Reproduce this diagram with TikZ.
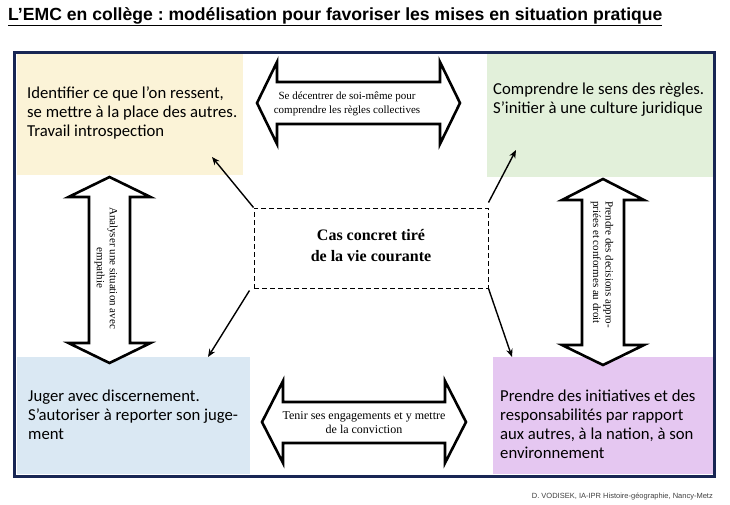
\documentclass[tikz,border=0pt]{standalone}
\usepackage{fontspec}
\setmainfont{Carlito}
\newfontfamily\timesfont{Liberation Serif}
\newfontfamily\arialfont{Liberation Sans}
\usetikzlibrary{arrows.meta}
\frenchspacing

\definecolor{navyframe}{RGB}{24,38,84}
\definecolor{identfill}{RGB}{251,243,215}
\definecolor{reglefill}{RGB}{226,240,218}
\definecolor{jugerfill}{RGB}{218,232,243}
\definecolor{initfill}{RGB}{229,199,241}

\tikzset{
  zone/.style 2 args={anchor=north west, inner sep=0pt, minimum width=#1, minimum height=#2},
  zonetext/.style={anchor=north west, align=left, inner sep=0pt, font=\fontsize{16.7}{19}\selectfont},
  blockarrow/.style={draw=black, fill=white, line width=2.6pt, line join=miter},
  arrowtext/.style={align=center, inner sep=0pt, font=\timesfont\fontsize{11}{14.5}\selectfont},
  link/.style={-{Stealth[length=8pt,width=6.5pt]}, line width=1.4pt},
  casebox/.style={draw, dash pattern=on 5pt off 3pt, line width=1pt, minimum width=234pt,
    minimum height=80pt, text depth=6pt, align=center, font=\timesfont\bfseries\fontsize{16}{21}\selectfont}
}

\begin{document}
\begin{tikzpicture}[x=1pt, y=-1pt]
  \useasboundingbox (0,0) rectangle (730,504);

  % titre
  \node[anchor=base west, inner sep=0pt, font=\arialfont\bfseries\fontsize{17.6}{20}\selectfont] (titre) at (8,20)
    {\underline{L’EMC en collège : modélisation pour favoriser les mises en situation pratique}};

  % les quatre zones
  \node[zone={226pt}{121pt}, fill=identfill] (ident) at (17,54) {};
  \node[zone={226pt}{123pt}, fill=reglefill] (regle) at (487,54) {};
  \node[zone={233pt}{117pt}, fill=jugerfill] (juger) at (17,357) {};
  \node[zone={220pt}{117pt}, fill=initfill] (init) at (493,357) {};

  \node[zonetext] (identtext) at (27,87) {Identifier ce que l’on ressent,\\se mettre à la place des autres.\\Travail introspection};
  \node[zonetext] (regletext) at (493,83) {Comprendre le sens des règles.\\S’initier à une culture juridique};
  \node[zonetext] (jugertext) at (28,390) {Juger avec discernement.\\S’autoriser à reporter son juge-\\ment};
  \node[zonetext] (inittext) at (500,390) {Prendre des initiatives et des\\responsabilités par rapport\\aux autres, à la nation, à son\\environnement};

  % cadre
  \draw[navyframe, line width=3pt] (14.5,52) rectangle (714.5,476);

  % fleches doubles
  \draw[blockarrow] (257,103) -- (277,62) -- (277,82) -- (440,82) -- (440,62) -- (460,103)
    -- (440,144) -- (440,124) -- (277,124) -- (277,144) -- cycle;
  \draw[blockarrow] (262,422) -- (283,381) -- (283,402) -- (445,402) -- (445,381) -- (466,422)
    -- (445,463) -- (445,443) -- (283,443) -- (283,463) -- cycle;
  \draw[blockarrow] (109.5,177) -- (150.5,197) -- (130,197) -- (130,343) -- (150.5,343) -- (109.5,363)
    -- (68.5,343) -- (89,343) -- (89,197) -- (68.5,197) -- cycle;
  \draw[blockarrow] (603,179) -- (644,200) -- (624,200) -- (624,345) -- (644,345) -- (603,365)
    -- (562,345) -- (582,345) -- (582,200) -- (562,200) -- cycle;

  \node[arrowtext] (decentrer) at (347,104) {Se décentrer de soi-même pour\\comprendre les règles collectives};
  \node[arrowtext, font=\timesfont\fontsize{12}{14}\selectfont] (engager) at (364,423) {Tenir ses engagements et y mettre\\de la conviction};
  \node[arrowtext, rotate=-90, font=\timesfont\fontsize{11}{13}\selectfont] (analyser) at (106,268) {Analyser une situation avec\\empathie};
  \node[arrowtext, rotate=-90, anchor=west, align=left, font=\timesfont\fontsize{11}{12.5}\selectfont] (decider) at (602,201) {Prendre des decisions appro-\\priées et conformes au droit};

  % cas concret
  \node[casebox] (cas) at (371,248) {Cas concret tiré\\de la vie courante};

  \coordinate (versident) at (212,157);
  \coordinate (versregle) at (516,150);
  \coordinate (versjuger) at (208,357);
  \coordinate (versinit) at (512,357);
  \draw[link] (cas.north west) -- (versident);
  \draw[link] ([yshift=5pt]cas.north east) -- (versregle);
  \draw[link] ([xshift=-4pt,yshift=-2pt]cas.south west) -- (versjuger);
  \draw[link] (cas.south east) -- (versinit);

  % credit
  \node[anchor=base east, inner sep=0pt, text=black!75, font=\arialfont\fontsize{7.5}{9}\selectfont] (credit) at (713,498)
    {D. VODISEK, IA-IPR Histoire-géographie, Nancy-Metz};
\end{tikzpicture}
\end{document}
